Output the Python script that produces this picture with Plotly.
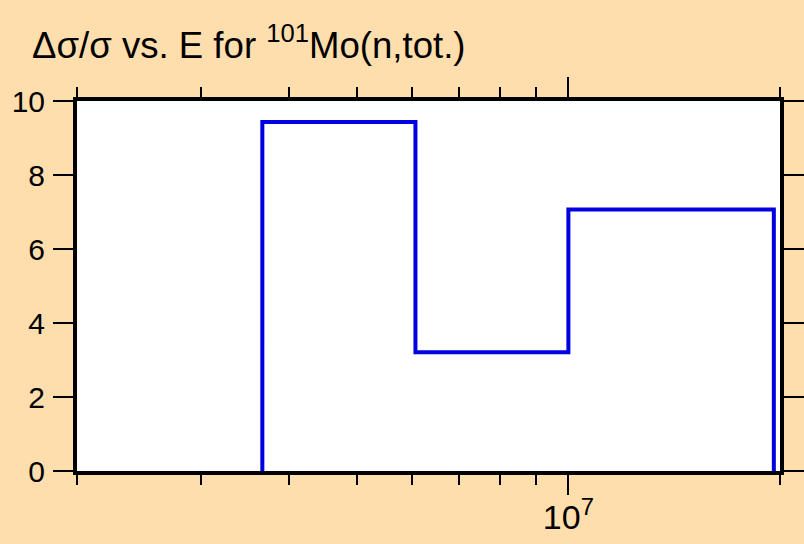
import numpy as np
import plotly.graph_objects as go

# energy group boundaries (eV) and relative uncertainty (%)
edges = [3.67e6, 6.06e6, 1.0e7, 1.96e7]
unc = [9.43, 3.21, 7.07]

x_range = [2e6, 2e7]
major_ticks = [1e7]
major_text = ["10<sup>7</sup>"]
minor_ticks = [2e6, 3e6, 4e6, 5e6, 6e6, 7e6, 8e6, 9e6, 2e7]

# step outline, closed down to zero at both ends
xs = np.repeat(edges, 2)
ys = [0] + list(np.repeat(unc, 2)) + [0]

fig = go.Figure()
fig.add_trace(go.Scatter(x=xs, y=ys, mode="lines",
                         line=dict(color="#0000e0", width=4),
                         showlegend=False, hoverinfo="skip"))

ff = "Liberation Sans, Arial, sans-serif"
fnt = dict(family=ff, size=30, color="black")

fig.update_layout(
    width=804, height=544,
    margin=dict(l=77, r=24, t=101, b=73),
    paper_bgcolor="#ffdead",
    plot_bgcolor="white",
    font=fnt,
    title=dict(text="Δσ/σ vs. E for <sup>101</sup>Mo(n,tot.)",
               xref="container", x=32 / 804, xanchor="left",
               yref="container", y=1 - 45 / 544, yanchor="middle",
               font=dict(family=ff, size=36.6, color="black")),
)

fig.update_xaxes(
    type="log", range=[np.log10(x_range[0]), np.log10(x_range[1])],
    automargin=False,
    showgrid=False, zeroline=False,
    showline=True, linecolor="black", linewidth=4, mirror="ticks",
    ticks="outside", ticklen=20, tickwidth=2, tickcolor="black",
    tickfont=dict(family=ff, size=34, color="black"),
    ticklabelstandoff=-7,
    tickmode="array", tickvals=major_ticks, ticktext=major_text,
    minor=dict(tickmode="array", tickvals=minor_ticks, ticks="outside",
               ticklen=10, tickwidth=2, tickcolor="black", showgrid=False),
)
fig.update_yaxes(
    range=[0, 10], dtick=2,
    automargin=False,
    showgrid=False, zeroline=False,
    showline=True, linecolor="black", linewidth=4, mirror="ticks",
    ticks="outside", ticklen=20, tickwidth=2, tickcolor="black",
    ticklabelstandoff=2,
)

# page body has a default 8px margin; drop it so the figure fills the window
fig.write_html("out.html", config={"displayModeBar": False},
               post_script="document.body.style.margin='0px';")
